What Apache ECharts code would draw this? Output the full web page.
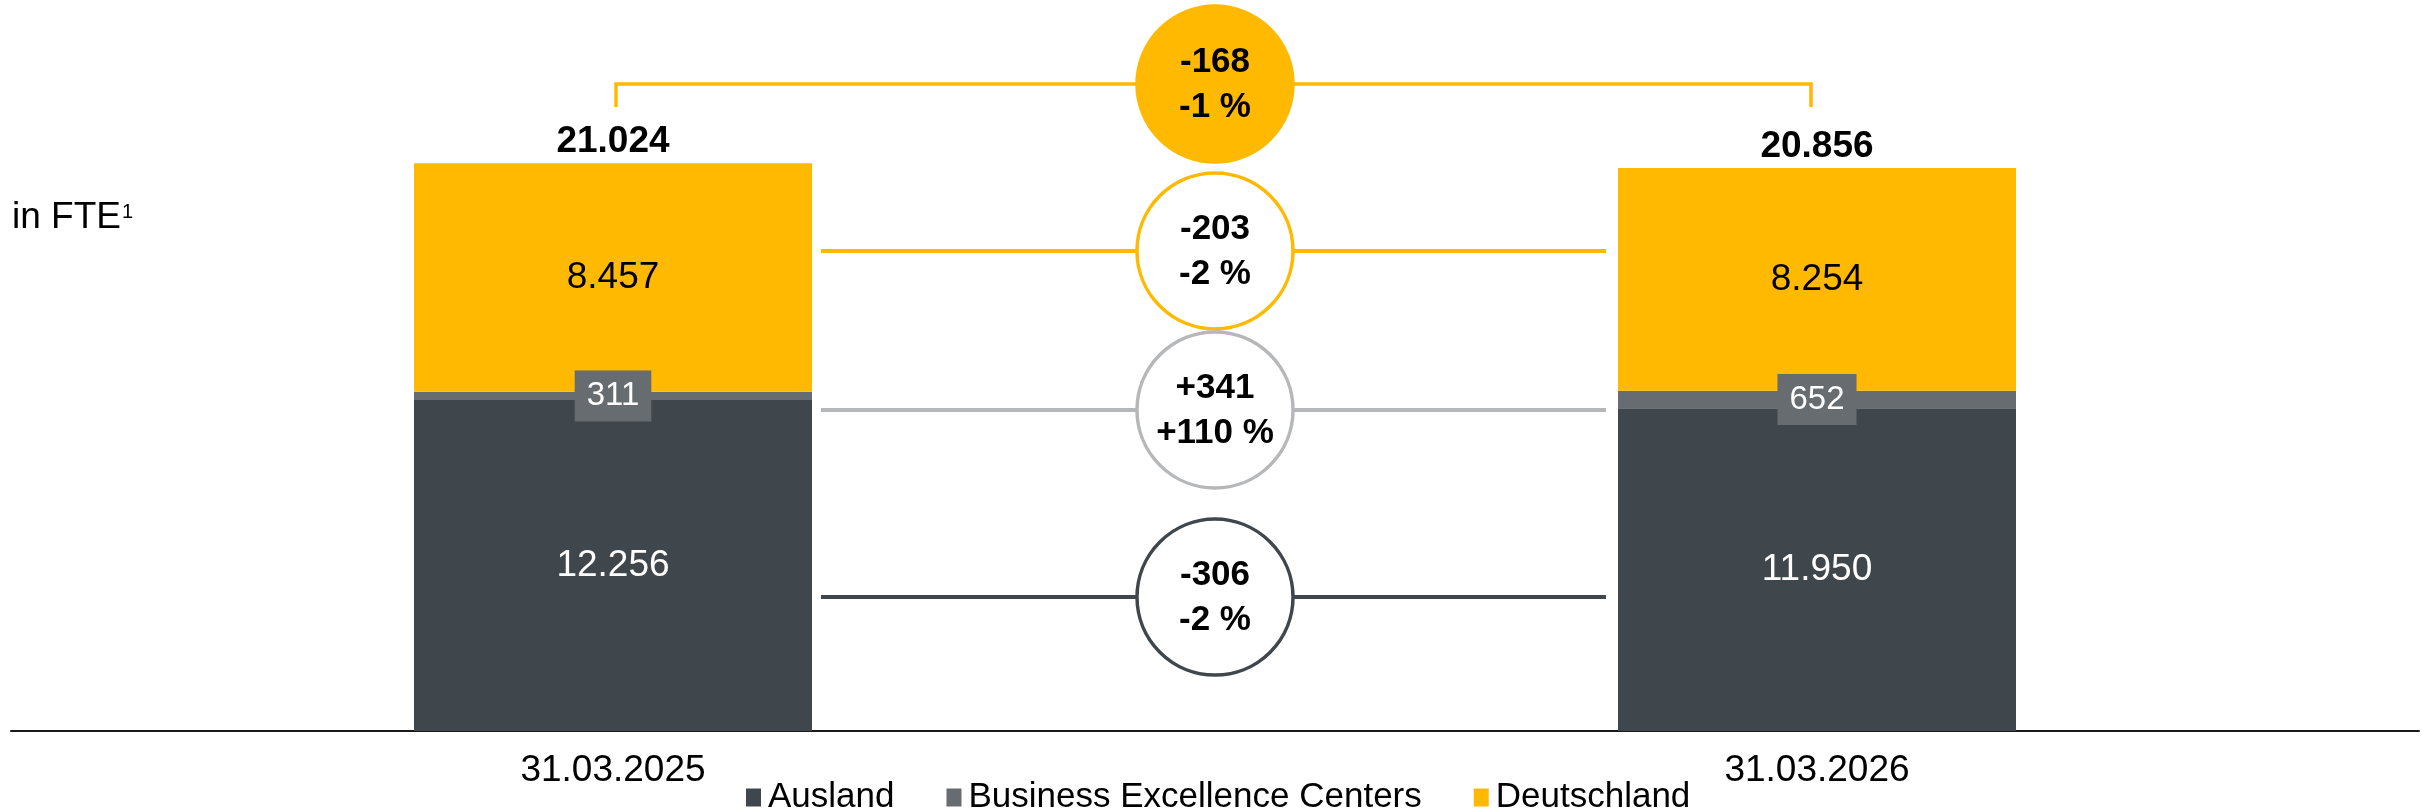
<!DOCTYPE html>
<html>
<head>
<meta charset="utf-8">
<script src="https://cdn.jsdelivr.net/npm/echarts@6/dist/echarts.min.js"></script>
<style>
  html, body { margin: 0; padding: 0; background: #fff; }
  #chart { width: 2422px; height: 810px; }
</style>
</head>
<body>
<div id="chart"></div>
<script>
// data
const categories = ['31.03.2025', '31.03.2026']
const ausland = [12256, 11950]
const bec = [311, 652]
const deutschland = [8457, 8254]
const totals = [21024, 20856]
const changeAbs = ['-168', '-203', '+341', '-306']
const changePct = ['-1 %', '-2 %', '+110 %', '-2 %']

const YELLOW = '#ffb900'
const DARK = '#40474c'
const GREY = '#666c6f'
const LIGHT = '#b5b7b9'
const FONT = '"Liberation Sans", Arial, sans-serif'
const BAR_W = 398

// axis levels where the change bubbles sit (top to bottom)
const bubbleLevels = [23960, 17780, 11890, 4960]
const bubbleStyles = [
	{fill: YELLOW, stroke: YELLOW},
	{fill: '#fff', stroke: YELLOW},
	{fill: '#fff', stroke: LIGHT},
	{fill: '#fff', stroke: DARK}
]

function fmt(v) {
	return String(v).replace(/\B(?=(\d{3})+(?!\d))/g, '.')
}

const chart = echarts.init(document.querySelector('#chart'))

function renderBubble(params, api) {
	const i = params.dataIndex
	const level = api.value(1)
	const p0 = api.coord([0, level])
	const p1 = api.coord([1, level])
	const cx = (p0[0] + p1[0]) / 2
	const cy = p0[1]
	const r = 78
	const st = bubbleStyles[i]
	const children = []
	if (i === 0) {
		// bracket between the two totals
		children.push({
			type: 'polyline',
			shape: {points: [[p0[0] + 3, cy + 23], [p0[0] + 3, cy], [p1[0] - 6, cy], [p1[0] - 6, cy + 23]]},
			style: {stroke: YELLOW, lineWidth: 3.5, fill: null}
		})
	} else {
		children.push({
			type: 'line',
			shape: {x1: p0[0] + BAR_W / 2 + 9, y1: cy, x2: cx - r, y2: cy},
			style: {stroke: st.stroke, lineWidth: 4}
		})
		children.push({
			type: 'line',
			shape: {x1: cx + r, y1: cy, x2: p1[0] - BAR_W / 2 - 12, y2: cy},
			style: {stroke: st.stroke, lineWidth: 4}
		})
	}
	children.push({
		type: 'circle',
		shape: {cx: cx, cy: cy, r: r},
		style: {fill: st.fill, stroke: st.stroke, lineWidth: 3.5}
	})
	children.push({
		type: 'text',
		x: cx,
		y: cy + 1,
		style: {
			text: changeAbs[i] + '\n' + changePct[i],
			fill: '#000',
			fontSize: 35,
			fontWeight: 'bold',
			fontFamily: FONT,
			lineHeight: 45,
			align: 'center',
			verticalAlign: 'middle'
		}
	})
	return {type: 'group', children: children}
}

const option = {
	animation: false,
	backgroundColor: '#fff',
	title: {
		text: '{a|in FTE}{s|1}',
		left: 12,
		top: 198,
		padding: 0,
		textStyle: {
			fontWeight: 'normal',
			rich: {
				a: {fontSize: 37, fontFamily: FONT, fontWeight: 'normal', color: '#000', lineHeight: 40},
				s: {fontSize: 20, fontFamily: FONT, fontWeight: 'normal', color: '#000', lineHeight: 20, padding: [0, 0, 12, 1]}
			}
		}
	},
	legend: {
		data: ['Ausland', 'Business Excellence Centers', 'Deutschland'],
		left: 746,
		top: 780,
		padding: 0,
		icon: 'rect',
		itemWidth: 15,
		itemHeight: 18,
		itemGap: 52,
		textStyle: {fontSize: 35, fontFamily: FONT, color: '#000', padding: [0, 0, 0, 2]}
	},
	grid: {left: 11, right: 3, top: 56, bottom: 79},
	xAxis: {
		type: 'category',
		data: categories,
		axisLine: {lineStyle: {color: '#1a1a1a', width: 2}},
		axisTick: {show: false},
		axisLabel: {fontSize: 37, fontFamily: FONT, color: '#000', margin: 21, lineHeight: 37}
	},
	yAxis: {
		type: 'value',
		min: 0,
		max: 25000,
		show: false,
		splitLine: {show: false}
	},
	series: [
		{
			name: 'Ausland', type: 'bar', stack: 'fte', barWidth: BAR_W,
			data: ausland,
			itemStyle: {color: DARK},
			label: {show: true, position: 'inside', color: '#fff', fontSize: 37, fontFamily: FONT, formatter: p => fmt(p.value)}
		},
		{
			name: 'Business Excellence Centers', type: 'bar', stack: 'fte', barWidth: BAR_W,
			data: bec,
			itemStyle: {color: GREY},
			label: {
				show: true, position: 'inside', color: '#fff', fontSize: 33, fontFamily: FONT,
				backgroundColor: GREY, padding: [10, 12, 9, 12], lineHeight: 32,
				formatter: p => fmt(p.value)
			}
		},
		{
			name: 'Deutschland', type: 'bar', stack: 'fte', barWidth: BAR_W,
			data: deutschland,
			itemStyle: {color: YELLOW},
			label: {show: true, position: 'inside', color: '#000', fontSize: 37, fontFamily: FONT, formatter: p => fmt(p.value)}
		},
		{
			name: 'Gesamt', type: 'bar', stack: 'fte', barWidth: BAR_W,
			data: [0, 0],
			itemStyle: {color: 'transparent'},
			label: {
				show: true, position: 'top', distance: 3, color: '#000', fontSize: 37, fontWeight: 'bold', fontFamily: FONT,
				formatter: p => fmt(totals[p.dataIndex])
			}
		},
		{
			name: 'Veränderung', type: 'custom',
			data: bubbleLevels.map(l => [0, l]),
			encode: {x: 0, y: 1},
			clip: false,
			z: 5,
			renderItem: renderBubble
		}
	]
}

chart.setOption(option)
</script>
</body>
</html>
